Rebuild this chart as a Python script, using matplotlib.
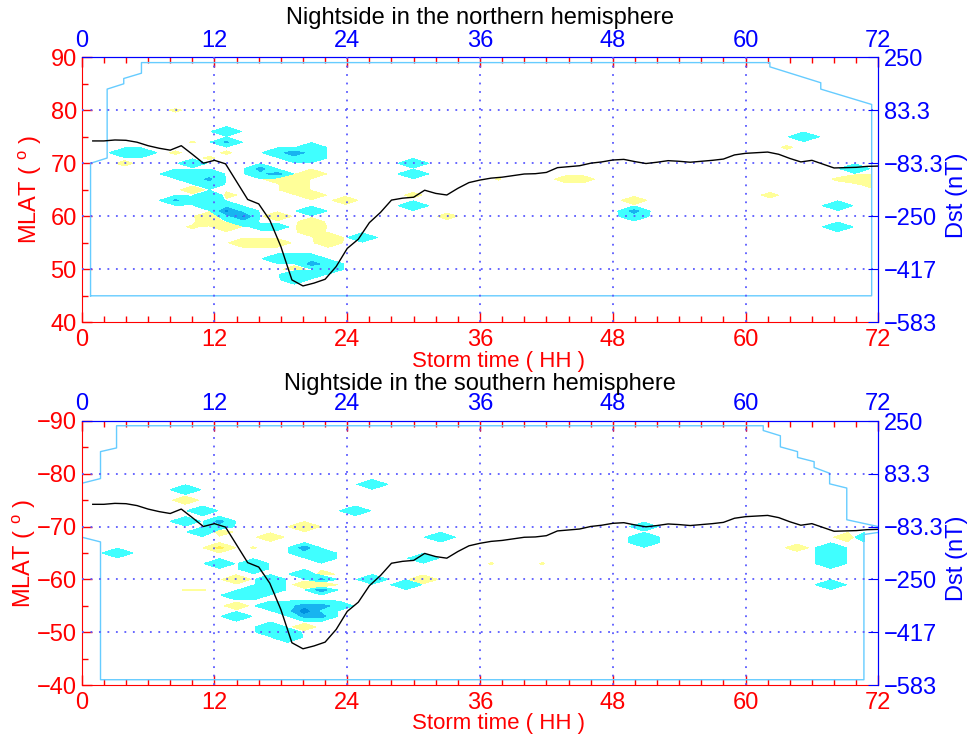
import numpy as np
import matplotlib
matplotlib.use('Agg')
import matplotlib.pyplot as plt
from matplotlib.ticker import FixedLocator, MultipleLocator, FixedFormatter

plt.rcParams['font.family'] = ['Liberation Sans', 'DejaVu Sans']
plt.rcParams['mathtext.fontset'] = 'custom'
plt.rcParams['mathtext.rm'] = 'Liberation Sans'
plt.rcParams['mathtext.it'] = 'Liberation Sans'

# ---------------- data ----------------
dst_hours = list(range(1, 73))
dst_values = [-13, -13, -10, -11, -17, -28, -36, -42, -28, -55,
              -83, -74, -85, -141, -197, -211, -262, -345, -450, -469,
              -460, -448, -408, -351, -322, -270, -238, -199, -193, -190,
              -168, -178, -183, -162, -144, -136, -130, -127, -122, -117,
              -116, -112, -97, -94, -91, -83, -79, -73, -71, -78,
              -84, -80, -75, -77, -80, -77, -74, -70, -57, -52,
              -50, -48, -55, -68, -79, -74, -86, -98, -97, -96,
              -93, -92]

# orbit (pass) times of the binned grid, one per ~92 min orbit
north_times = np.round(0.8 + 1.535 * np.arange(47), 3)
north_lats = np.arange(45, 90)
south_times = np.round(1.7 + 1.535 * np.arange(46), 3)
south_lats = np.arange(-89, -40)

# non-zero grid nodes: orbit index, MLAT, value
north_orbit = [5, 2, 3, 2, 8, 8, 6, 8, 7, 5, 6, 5, 6, 7, 6, 7, 7, 6, 8, 5,
               7, 6, 7, 7, 8, 8, 9, 8, 9, 9, 7, 7, 8, 6, 10, 11, 11, 12, 13, 12,
               13, 13, 10, 10, 11, 11, 12, 13, 12, 12, 13, 11, 13, 13, 13, 13, 14, 14, 9, 10,
               11, 11, 12, 13, 13, 14, 14, 12, 13, 12, 12, 16, 15, 19, 19, 19, 19, 21, 24, 28,
               29, 32, 32, 32, 40, 42, 41, 45, 44, 45, 46, 46, 44, 44]
north_mlat = [80, 72, 72, 70, 76, 74, 74, 72, 71, 72, 70, 68, 68, 68, 67, 67, 66, 65, 64, 63,
              64, 63, 63, 62, 62, 61, 61, 60, 60, 59, 60, 59, 58, 58, 58, 58, 72, 72, 72, 71,
              71, 73, 69, 68, 68, 67, 67, 68, 66, 65, 64, 60, 61, 59, 58, 57, 56, 55, 55, 55,
              55, 52, 52, 52, 51, 51, 50, 49, 49, 48, 50, 56, 63, 70, 68, 62, 64, 60, 67, 67,
              67, 63, 61, 60, 64, 75, 73, 69, 67, 67, 67, 66, 62, 58]
north_value = [-0.15, 1, 1, -0.2, 1, 1.7, -0.12, -0.15, -0.15, -0.15, 0.6, 1, 1, 1, 1, 1.7, 1, -0.35, -0.25, 1.7,
               1, 0.5, 1, 1, 1, 2.6, 1, 1, 2.6, 1, -0.8, -0.5, -0.8, -0.15, 0.25, 0.3, 1, 2.2, 1, 1,
               1, 1, 2, 1.2, 2, -0.5, -1, -1, -1, -1, -0.8, -0.6, 1, -0.4, -1, -0.5, -1, -0.6, -0.8, -1,
               -0.5, 1, 1, 1, 2, 1, 1, 1, 0.5, 0.5, -0.3, 0.8, -0.4, 1, 1, 1, -0.2, -0.25, -0.12, -0.3,
               -0.3, -0.4, 2, 0.8, -0.2, 1, -0.15, 1, -0.15, -0.5, -0.8, -0.3, 1, 1]

south_orbit = [1, 5, 5, 6, 5, 7, 7, 6, 7, 7, 7, 8, 5, 6, 9, 9, 8, 9, 9, 10,
               10, 10, 8, 8, 10, 10, 11, 11, 12, 12, 12, 13, 13, 12, 10, 9, 12, 13, 13, 12,
               13, 13, 10, 11, 12, 13, 14, 11, 12, 13, 12, 13, 15, 16, 16, 18, 19, 19, 20, 23,
               26, 32, 32, 32, 41, 44, 43, 43, 43, 43, 45, 43]
south_mlat = [-65, -77, -75, -73, -71, -71, -70, -69, -69, -66, -63, -60, -58, -58, -63, -62, -57, -57, -58, -58,
              -59, -60, -53, -55, -51, -50, -50, -49, -51, -66, -65, -65, -64, -70, -68, -66, -61, -61, -60, -59,
              -59, -58, -55, -55, -55, -55, -55, -54, -54, -54, -53, -53, -73, -78, -60, -59, -64, -60, -68, -63,
              -63, -70, -68, -67, -66, -68, -66, -65, -64, -63, -68, -59]
south_value = [1, 1, -0.4, 1, 0.8, 2, 0.8, 1, -0.5, -2.8, 1, -0.7, -0.12, -0.12, 1, 1, 1, 1, 1, 0.8,
               1, 1, 1, -0.35, 1, 0.6, 0.6, 1, -0.3, 2.2, 1, 0.8, 1, -1.8, -0.5, -0.12, 1, -0.4, 1.8, -0.3,
               -1.8, 2.2, 1, 1, 2, 2, 1, 1, 3, 1.2, 1.8, 2, 1, 1, 1, 1, 1, -0.6, 1, -0.12,
               -0.12, 0.6, 1, 1, -0.3, -0.6, 1, 1, 1, 1, 1, 1]

# outline of the data coverage
north_edge_t = [0.8, 0.8, 2.3, 2.3, 3.8, 3.8, 5.4, 5.4, 62.2, 62.2, 66.8, 66.8, 71.4, 71.4, 0.8]
north_edge_lat = [45, 70, 71, 84, 85, 86, 87, 89, 89, 88.2, 85.2, 84, 81.1, 45, 45]
south_edge1_t = [0.0, 1.7, 1.7, 3.15, 3.15, 61.6, 61.6, 63.15, 63.15, 64.7, 64.7, 66.2, 66.2,
                 67.6, 67.6, 69.15, 69.15, 72.0]
south_edge1_lat = [-78.2, -79.1, -84.2, -84.9, -89.1, -89.1, -88.2, -87.2, -85.1, -84.2, -83.1, -82.3, -81.2,
                   -80.1, -78.1, -77.3, -71.3, -70.0]
south_edge2_t = [0.0, 1.7, 1.7, 70.7, 70.7, 72.0]
south_edge2_lat = [-68.0, -67.1, -41.0, -41.0, -68.5, -68.9]

x_ticks = [0, 12, 24, 36, 48, 60, 72]
dst_ticks = [250, 83.33, -83.33, -250, -416.67, -583.33]
dst_ticklabels = ['250', '83.3', '\u221283.3', '\u2212250', '\u2212417', '\u2212583']

levels = [-10, -2.5, -1.5, -0.1, 0.1, 1.5, 2.5, 10]
fill_colors = ['#ffcc00', '#ffee55', '#ffff99', (1, 1, 1, 0), '#40ffff', '#18b4f0', '#0090e0']

RED = '#ff0000'
BLUE = '#0000ff'
FS = 17


def build_grid(times, lats, orbit, mlat, value):
    z = np.zeros((len(lats), len(times)))
    lat_list = list(lats)
    for k, la, v in zip(orbit, mlat, value):
        z[lat_list.index(la), k] = v
    return z


fig = plt.figure(figsize=(9.69, 7.40), dpi=100)
W, H = 969.0, 740.0


def panel(top_px, bot_px, times, lats, orbit, mlat, value, ylim, yticks, edges, title, title_y, mlat_x):
    ax = fig.add_axes([81.7 / W, 1 - bot_px / H, 796.6 / W, (bot_px - top_px) / H])
    z = build_grid(times, lats, orbit, mlat, value)
    ax.contourf(times, lats, z, levels=levels, colors=fill_colors, zorder=1)
    for et, el in edges:
        ax.plot(et, el, color='#66ccff', lw=1.0, zorder=2)
    for xv in x_ticks[1:-1]:
        ax.axvline(xv, color='#5a5aff', lw=1.3, ls=(0, (1, 3.7)), zorder=3)
    for yv in yticks[1:-1]:
        ax.axhline(yv, color='#5a5aff', lw=1.3, ls=(0, (1, 3.7)), zorder=3)
    ax.set_xlim(0, 72)
    ax.set_ylim(*ylim)
    ax.xaxis.set_major_locator(FixedLocator(x_ticks))
    ax.xaxis.set_minor_locator(MultipleLocator(2))
    ax.yaxis.set_major_locator(FixedLocator(yticks))
    ax.yaxis.set_minor_locator(MultipleLocator(5))
    ax.tick_params(axis='x', which='both', direction='in', colors=RED, top=True, bottom=True,
                   labelsize=FS, pad=5)
    ax.tick_params(axis='y', which='both', direction='in', colors=RED, left=True, right=True,
                   labelsize=FS, pad=3.5)
    ax.tick_params(which='major', length=7, width=1)
    ax.tick_params(which='minor', length=4, width=1)
    ax.spines['left'].set_color(RED)
    ax.spines['bottom'].set_color(RED)
    ax.spines['top'].set_color(BLUE)
    ax.spines['right'].set_color(BLUE)

    sec = ax.secondary_xaxis('top')
    sec.set_xticks(x_ticks)
    sec.tick_params(direction='in', colors=BLUE, length=7, labelsize=FS, pad=4)
    sec.spines['top'].set_color(BLUE)

    ax2 = ax.twinx()
    ax2.set_ylim(-583.33, 250)
    ax2.plot(dst_hours, dst_values, color='black', lw=1.0, zorder=4)
    ax2.yaxis.set_major_locator(FixedLocator(dst_ticks))
    ax2.yaxis.set_major_formatter(FixedFormatter(dst_ticklabels))
    ax2.tick_params(axis='y', direction='in', colors=BLUE, length=7, labelsize=FS, pad=4)
    for s in ['left', 'top', 'bottom']:
        ax2.spines[s].set_visible(False)
    ax2.spines['right'].set_color(BLUE)
    ax2.set_xlim(0, 72)

    fig.text(480 / W, 1 - title_y / H, title, ha='center', va='center', fontsize=FS, color='black')
    fig.text(499 / W, 1 - (bot_px + 39) / H, 'Storm time ( HH )', ha='center', va='center',
             fontsize=16, color=RED)
    fig.text(mlat_x / W, 1 - (top_px + bot_px) / 2 / H, 'MLAT ( $^{\\rm o}$ )', ha='center', va='center',
             rotation=90, fontsize=FS, color=RED)
    fig.text(957 / W, 1 - ((top_px + bot_px) / 2 + 5) / H, 'Dst (nT)', ha='center', va='center',
             rotation=90, fontsize=FS, color=BLUE)
    return ax


panel(57.3, 322.3, north_times, north_lats, north_orbit, north_mlat, north_value,
      (40, 90), [40, 50, 60, 70, 80, 90],
      [(north_edge_t, north_edge_lat)],
      'Nightside in the northern hemisphere', 18, 30)
panel(421, 685, south_times, south_lats, south_orbit, south_mlat, south_value,
      (-40, -90), [-40, -50, -60, -70, -80, -90],
      [(south_edge1_t, south_edge1_lat), (south_edge2_t, south_edge2_lat)],
      'Nightside in the southern hemisphere', 384, 24)

fig.savefig('out.png', dpi=100)
